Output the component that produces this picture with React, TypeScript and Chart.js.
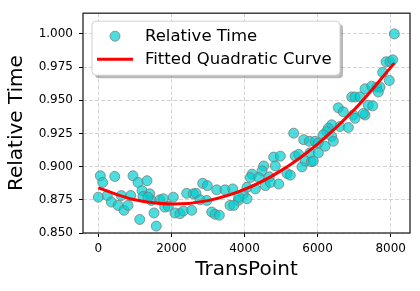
import { useEffect, useRef } from "react";
import { Chart, registerables } from "chart.js";

Chart.register(...registerables);

const transPoints = [
  55, 120, 449, 949, 1086, 1332, 0, 246, 356, 539, 629, 703, 813, 886, 1133, 1196, 1223, 1406, 1450, 1524,
  1587, 1680, 1817, 1360, 1778, 1915, 2052, 2099, 2235, 2326, 2419, 2555, 2599, 2673, 2783, 2856, 2982, 2966,
  3103, 3193, 3311, 3239, 3467, 3603, 3677, 3830, 3967, 5346, 5620, 5773, 4799, 4980, 4843, 4525, 4479, 4205,
  4159, 4389, 4679, 4936, 5163, 5253, 5390, 5483, 5573, 5664, 5828, 4569, 4296, 4068, 4068, 3841, 3705, 4706,
  6933, 7023, 7160, 7297, 7387, 6566, 6703, 6977, 7297, 6386, 6613, 6840, 6293, 6249, 6156, 6386, 6430, 5929,
  6019, 5792, 6019, 5883, 6203, 8099, 7872, 7981, 8055, 7781, 7962, 7617, 7480, 7708, 7661, 7508, 7250, 7023,
];

const relativeTimes = [
  0.8931, 0.8881, 0.8926, 0.8931, 0.8881, 0.8894, 0.877, 0.8782, 0.8733, 0.8708, 0.8782, 0.8671, 0.8708, 0.8782,
  0.8602, 0.8819, 0.8775, 0.8795, 0.8745, 0.8651, 0.8552, 0.875, 0.8695, 0.877, 0.8758, 0.8701, 0.877, 0.8651,
  0.8646, 0.8666, 0.8799, 0.8671, 0.8795, 0.8799, 0.875, 0.8874, 0.8857, 0.8745, 0.8658, 0.8641, 0.8634, 0.8825,
  0.8825, 0.8708, 0.8832, 0.8745, 0.8795, 0.9252, 0.9203, 0.9191, 0.9072, 0.9079, 0.9005, 0.9005, 0.8968, 0.8943,
  0.8918, 0.8918, 0.8923, 0.8869, 0.8948, 0.8936, 0.9079, 0.9092, 0.8998, 0.9042, 0.9037, 0.8857, 0.8832, 0.8844,
  0.8758, 0.877, 0.8708, 0.8881, 0.9525, 0.9525, 0.9525, 0.9586, 0.9463, 0.9443, 0.9413, 0.9389, 0.9389, 0.9315,
  0.9302, 0.9295, 0.9289, 0.9265, 0.924, 0.9228, 0.9191, 0.9191, 0.9178, 0.9104, 0.9104, 0.9042, 0.9154, 1.0,
  0.979, 0.979, 0.9805, 0.971, 0.9649, 0.9599, 0.9606, 0.9599, 0.9562, 0.9458, 0.9401, 0.9364,
];

const curveX = [0, 1000, 2000, 3000, 4000, 5000, 6000, 7000, 8100];
const curveY = [0.884, 0.875, 0.8718, 0.8744, 0.8828, 0.897, 0.917, 0.9428, 0.978];

const xTicks = [0, 2000, 4000, 6000, 8000];
const yTicks = [0.85, 0.875, 0.9, 0.925, 0.95, 0.975, 1.0];

const scatterLabel = "Relative Time";
const curveLabel = "Fitted Quadratic Curve";
const xTitle = "TransPoint";
const yTitle = "Relative Time";

const FONT = "'DejaVu Sans', sans-serif";
const POINT_FILL = "rgba(0,206,209,0.7)";
const POINT_EDGE = "rgba(120,120,120,0.75)";

const framePlugin = {
  id: "frame",
  afterDatasetsDraw(chart: any) {
    const { ctx, chartArea: a } = chart;
    ctx.save();
    ctx.strokeStyle = "#262626";
    ctx.lineWidth = 1.3;
    ctx.strokeRect(a.left, a.top, a.right - a.left, a.bottom - a.top);
    ctx.restore();
  },
};

function roundRect(ctx: CanvasRenderingContext2D, x: number, y: number, w: number, h: number, r: number) {
  ctx.beginPath();
  ctx.moveTo(x + r, y);
  ctx.lineTo(x + w - r, y);
  ctx.arcTo(x + w, y, x + w, y + r, r);
  ctx.lineTo(x + w, y + h - r);
  ctx.arcTo(x + w, y + h, x + w - r, y + h, r);
  ctx.lineTo(x + r, y + h);
  ctx.arcTo(x, y + h, x, y + h - r, r);
  ctx.lineTo(x, y + r);
  ctx.arcTo(x, y, x + r, y, r);
  ctx.closePath();
}

const legendPlugin = {
  id: "shadowLegend",
  afterDraw(chart: any) {
    const { ctx, chartArea: a } = chart;
    const bx = a.left + 9;
    const by = a.top + 8;
    const bw = 248;
    const bh = 54;
    ctx.save();
    roundRect(ctx, bx + 3, by + 3, bw, bh, 4);
    ctx.fillStyle = "rgba(0,0,0,0.28)";
    ctx.fill();
    roundRect(ctx, bx, by, bw, bh, 4);
    ctx.fillStyle = "#ffffff";
    ctx.fill();
    ctx.strokeStyle = "#d0d0d0";
    ctx.lineWidth = 1;
    ctx.stroke();

    const y1 = by + 15;
    const y2 = by + 38;
    ctx.beginPath();
    ctx.arc(bx + 23, y1, 5, 0, Math.PI * 2);
    ctx.fillStyle = POINT_FILL;
    ctx.fill();
    ctx.strokeStyle = POINT_EDGE;
    ctx.lineWidth = 1;
    ctx.stroke();
    ctx.beginPath();
    ctx.moveTo(bx + 5, y2);
    ctx.lineTo(bx + 41, y2);
    ctx.strokeStyle = "red";
    ctx.lineWidth = 3;
    ctx.stroke();

    ctx.fillStyle = "#000";
    ctx.font = `16.5px ${FONT}`;
    ctx.textBaseline = "middle";
    ctx.textAlign = "left";
    ctx.fillText(scatterLabel, bx + 53, y1 + 1);
    ctx.fillText(curveLabel, bx + 53, y2 + 1);
    ctx.restore();
  },
};

export default function App() {
  const ref = useRef<HTMLCanvasElement | null>(null);

  useEffect(() => {
    if (!ref.current) return;
    const chart = new Chart(ref.current, {
      data: {
        datasets: [
          {
            type: "line",
            label: curveLabel,
            data: curveX.map((x, i) => ({ x, y: curveY[i] })),
            borderColor: "red",
            borderWidth: 3,
            pointRadius: 0,
            tension: 0.4,
            fill: false,
            order: 0,
          },
          {
            type: "scatter",
            label: scatterLabel,
            data: transPoints.map((x, i) => ({ x, y: relativeTimes[i] })),
            backgroundColor: POINT_FILL,
            borderColor: POINT_EDGE,
            borderWidth: 1,
            pointRadius: 5,
            order: 1,
          },
        ],
      } as any,
      options: {
        responsive: false,
        animation: false,
        layout: { padding: { top: 10, right: 10, left: 0, bottom: 0 } },
        plugins: { legend: { display: false }, tooltip: { enabled: false } },
        scales: {
          x: {
            type: "linear",
            min: -419,
            max: 8528,
            afterBuildTicks: (s: any) => {
              s.ticks = xTicks.map((v) => ({ value: v }));
            },
            afterFit: (s: any) => {
              s.height = 58;
            },
            ticks: {
              font: { family: FONT, size: 12 },
              color: "#000",
              padding: 5,
              maxRotation: 0,
              autoSkip: false,
              callback: (v: any) => String(v),
            },
            grid: { color: "#d4d4d4", tickColor: "#000", tickLength: 4, tickWidth: 1 },
            border: { display: false, dash: [4, 2] },
            title: {
              display: true,
              text: xTitle,
              color: "#000",
              font: { family: FONT, size: 20 },
              padding: { top: 0, bottom: 9 },
            },
          },
          y: {
            type: "linear",
            min: 0.85,
            max: 1.0156,
            afterBuildTicks: (s: any) => {
              s.ticks = yTicks.map((v) => ({ value: v }));
            },
            afterFit: (s: any) => {
              s.width = 83;
            },
            ticks: {
              font: { family: FONT, size: 12 },
              color: "#000",
              padding: 6,
              callback: (v: any) => Number(v).toFixed(3),
            },
            grid: { color: "#d4d4d4", tickColor: "#000", tickLength: 4, tickWidth: 1 },
            border: { display: false, dash: [4, 2] },
            title: {
              display: true,
              text: yTitle,
              color: "#000",
              font: { family: FONT, size: 20 },
              padding: { top: 5, bottom: 0 },
            },
          },
        },
      },
      plugins: [framePlugin, legendPlugin],
    });
    return () => chart.destroy();
  }, []);

  return (
    <div style={{ position: "absolute", left: 0, top: 0, width: 420, height: 291 }}>
      <canvas ref={ref} width={420} height={291} style={{ display: "block" }} />
    </div>
  );
}
